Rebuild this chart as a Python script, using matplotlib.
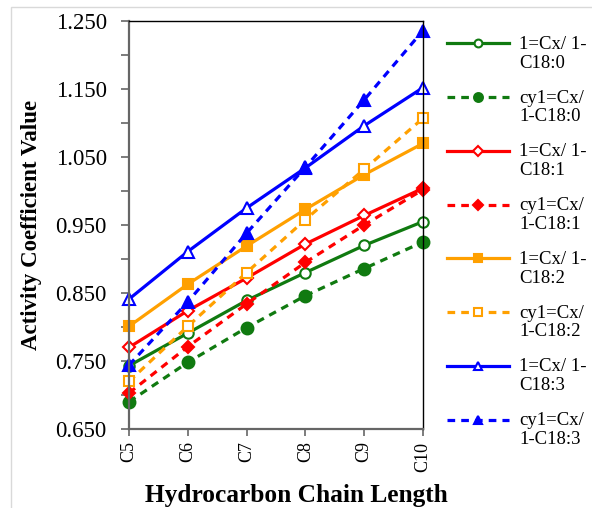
import numpy as np
import matplotlib
matplotlib.use("Agg")
import matplotlib.pyplot as plt
from matplotlib.legend_handler import HandlerLine2D
from matplotlib.patches import Rectangle
from matplotlib.ticker import FixedLocator, FormatStrFormatter

# ---------------- data ----------------
categories = ["C5", "C6", "C7", "C8", "C9", "C10"]

lin_c18_0 = [0.743, 0.791, 0.839, 0.880, 0.920, 0.955]
cyc_c18_0 = [0.690, 0.748, 0.799, 0.846, 0.886, 0.925]
lin_c18_1 = [0.770, 0.824, 0.872, 0.922, 0.964, 1.004]
cyc_c18_1 = [0.703, 0.771, 0.834, 0.895, 0.950, 1.002]
lin_c18_2 = [0.801, 0.863, 0.919, 0.973, 1.024, 1.070]
cyc_c18_2 = [0.720, 0.801, 0.880, 0.958, 1.032, 1.107]
lin_c18_3 = [0.841, 0.911, 0.975, 1.034, 1.096, 1.152]
cyc_c18_3 = [0.744, 0.837, 0.938, 1.035, 1.134, 1.236]

labels = ["1=Cx/ 1-\nC18:0", "cy1=Cx/\n1-C18:0",
          "1=Cx/ 1-\nC18:1", "cy1=Cx/\n1-C18:1",
          "1=Cx/ 1-\nC18:2", "cy1=Cx/\n1-C18:2",
          "1=Cx/ 1-\nC18:3", "cy1=Cx/\n1-C18:3"]

ytick_major = [0.650, 0.750, 0.850, 0.950, 1.050, 1.150, 1.250]
ytick_minor = [0.700, 0.800, 0.900, 1.000, 1.100, 1.200]

# ---------------- style ----------------
green = "#107a10"
red = "#ff0000"
orange = "#ffa000"
blue = "#0000ff"

series = [
    (lin_c18_0, green, "-", "o", "white", 7.5),
    (cyc_c18_0, green, "--", "o", green, 8.5),
    (lin_c18_1, red, "-", "D", "white", 6.5),
    (cyc_c18_1, red, "--", "D", red, 6.5),
    (lin_c18_2, orange, "-", "s", orange, 7.5),
    (cyc_c18_2, orange, "--", "s", "white", 7.5),
    (lin_c18_3, blue, "-", "^", "white", 8),
    (cyc_c18_3, blue, "--", "^", blue, 8),
]

plt.rcParams["font.family"] = ["Liberation Serif", "DejaVu Serif"]

fig = plt.figure(figsize=(5.92, 5.08), dpi=100)
ax = fig.add_axes([129 / 592, 1 - 429 / 508, 294 / 592, 408 / 508])

x = np.arange(len(categories))
handles = []
for vals, col, ls, mk, mfc, ms in series:
    line, = ax.plot(x, vals, color=col, linewidth=2.3,
                    linestyle=(0, (2.4, 1.9)) if ls == "--" else "-",
                    marker=mk, markersize=ms, markerfacecolor=mfc,
                    markeredgecolor=col, markeredgewidth=1.5, clip_on=False)
    handles.append(line)

ax.set_xlim(0, len(categories) - 1)
ax.set_ylim(0.650, 1.250)
ax.set_xticks(x)
ax.set_xticklabels(categories, rotation=90, fontsize=13)
ax.yaxis.set_major_locator(FixedLocator(ytick_major))
ax.yaxis.set_minor_locator(FixedLocator(ytick_minor))
ax.yaxis.set_major_formatter(FormatStrFormatter("%.3f"))
ax.tick_params(axis="y", which="both", direction="out", length=6,
               width=1.2, color="#666666", labelsize=16.5, pad=10)
ax.tick_params(axis="x", which="both", direction="out", length=5,
               width=1.2, color="#666666", pad=4)

for s in ("left", "bottom"):
    ax.spines[s].set_color("#666666")
    ax.spines[s].set_linewidth(1.6)
for s in ("top", "right"):
    ax.spines[s].set_color("black")
    ax.spines[s].set_linewidth(1.0)

ax.set_xlabel("Hydrocarbon Chain Length", fontsize=18.3, fontweight="bold")
ax.xaxis.set_label_coords(0.568, -0.164)
ax.xaxis.label.set_va("center")
ax.set_ylabel("Activity Coefficient Value", fontsize=16.5, fontweight="bold")
ax.yaxis.set_label_coords(-0.33, 0.5)
ax.yaxis.label.set_va("center")


class UpHandler(HandlerLine2D):
    def __init__(self, shift, **kw):
        super().__init__(**kw)
        self.shift = shift

    def create_artists(self, legend, orig_handle, xdescent, ydescent,
                       width, height, fontsize, trans):
        arts = super().create_artists(legend, orig_handle, xdescent, ydescent,
                                      width, height, fontsize, trans)
        for a in arts:
            a.set_ydata(np.asarray(a.get_ydata(), dtype=float) + self.shift * fontsize)
        return arts


hmap = {h: UpHandler(0.55) for h in handles}
leg = fig.legend(handles, labels, loc="upper left",
                 bbox_to_anchor=(447 / 592, 1 - 36 / 508),
                 frameon=False, fontsize=13.5, handlelength=3.3,
                 handletextpad=0.55, labelspacing=0.97, borderpad=0,
                 borderaxespad=0, markerscale=0.75, handler_map=hmap)
for t in leg.get_texts():
    t.set_linespacing(1.12)

# light figure border
fig.patches.append(Rectangle((10.5 / 592, -0.1), 1.2, 1 - 6.7 / 508 + 0.1,
                             transform=fig.transFigure, fill=False,
                             edgecolor="#d9d9d9", linewidth=1.0, zorder=-1))

fig.savefig("out.png", dpi=100)
